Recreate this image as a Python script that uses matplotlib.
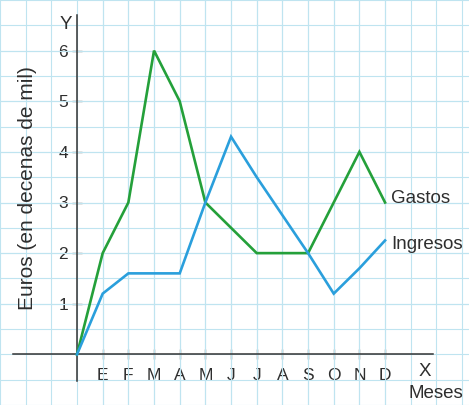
import matplotlib.pyplot as plt
import numpy as np

plt.rcParams['font.family'] = ['Liberation Sans', 'DejaVu Sans']

# months (index 0 = origin)
meses = ['E', 'F', 'M', 'A', 'M', 'J', 'J', 'A', 'S', 'O', 'N', 'D']
pos = np.arange(0, 13)

# values in tens of thousands of euros, starting at the origin
gastos = [0, 2, 3, 6, 5, 3, 2.5, 2, 2, 2, 3, 4, 3]
ingresos = [0, 1.2, 1.6, 1.6, 1.6, 3, 4.3, 3.5, 2.75, 2.0, 1.2, 1.7, 2.25]

verde = '#24a03a'
azul = '#2a9fdc'
texto = '#2e2e2e'

fig = plt.figure(figsize=(4.69, 4.05), dpi=100)
ax = fig.add_axes([0, 0, 1, 1])

# pixel mapping: origin at (72, 355), 26 px per month, 51.8 px per unit
ax.set_xlim(-72 / 26, (469 - 72) / 26)
ax.set_ylim((355 - 405) / 51.8, 355 / 51.8)

ax.plot(pos, gastos, color=verde, lw=1.9, solid_joinstyle='miter', zorder=3)
ax.plot(pos, ingresos, color=azul, lw=1.9, solid_joinstyle='miter', zorder=3)

# axes through the origin
for s in ['top', 'right']:
    ax.spines[s].set_visible(False)
ax.spines['left'].set_position(('data', 0))
ax.spines['bottom'].set_position(('data', 0))
ax.spines['left'].set_bounds(-0.52, 6.7)
ax.spines['bottom'].set_bounds(-2.5, 13.88)
for s in ['left', 'bottom']:
    ax.spines[s].set_color('#333333')
    ax.spines[s].set_linewidth(1.1)

ax.set_xticks(pos[1:])
ax.set_xticklabels(meses)
ax.set_yticks(range(1, 7))
ax.tick_params(axis='both', direction='inout', length=7, width=0.9,
               colors='#333333', labelcolor=texto, labelsize=12.5)
ax.tick_params(axis='x', pad=6)
ax.tick_params(axis='y', pad=3)

# square background grid
ax.set_xticks(np.arange(-3, 16), minor=True)
ax.set_yticks(np.arange(-1, 7.5, 0.5), minor=True)
ax.xaxis.remove_overlapping_locs = False
ax.yaxis.remove_overlapping_locs = False
ax.tick_params(which='minor', length=0)
ax.grid(which='both', color='#bfe4f0', lw=0.8, zorder=0)
ax.set_axisbelow(True)

ax.text(12.23, 3.08, 'Gastos', color=texto, fontsize=13.5, va='center')
ax.text(12.23, 2.18, 'Ingresos', color=texto, fontsize=13.5, va='center')
ax.text(-0.45, 6.52, 'Y', color=texto, fontsize=13.5, ha='center', va='center')
ax.text(13.55, -0.33, 'X', color=texto, fontsize=13.5, ha='center', va='center')
ax.text(15.05, -0.77, 'Meses', color=texto, fontsize=13.5, ha='right', va='center')
ax.text(-1.92, 3.28, 'Euros (en decenas de mil)', color=texto, fontsize=15,
        rotation=90, ha='center', va='center')

fig.savefig('out.png', dpi=100)
